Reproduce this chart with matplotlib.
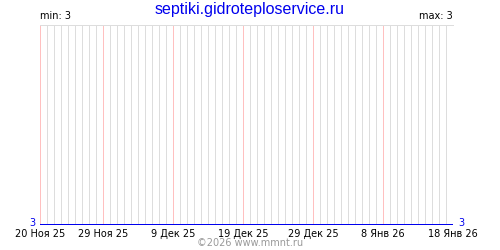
import datetime

import matplotlib
matplotlib.use('Agg')
import matplotlib.pyplot as plt
import matplotlib.dates as mdates

title = 'septiki.gidroteploservice.ru'
start = datetime.date(2025, 11, 20)
values = [3, 3, 3, 3, 3, 3, 3, 3, 3, 3,
          3, 3, 3, 3, 3, 3, 3, 3, 3, 3,
          3, 3, 3, 3, 3, 3, 3, 3, 3, 3,
          3, 3, 3, 3, 3, 3, 3, 3, 3, 3,
          3, 3, 3, 3, 3, 3, 3, 3, 3, 3,
          3, 3, 3, 3, 3, 3, 3, 3, 3, 3]
tick_days = [0, 9, 19, 29, 39, 49, 59]
tick_labels = ['20 Ноя 25', '29 Ноя 25', '9 Дек 25', '19 Дек 25',
               '29 Дек 25', '8 Янв 26', '18 Янв 26']

days = [start + datetime.timedelta(days=i) for i in range(len(values))]
x = mdates.date2num(days)

fig = plt.figure(figsize=(5, 2.5), dpi=100)
ax = fig.add_axes([0.08, 0.1, 0.826, 0.8])

# daily grid (gray) and 10-day grid (pink), 1 px wide
for i, xi in enumerate(x):
    if i in tick_days:
        ax.axvline(xi, color='#ffc0c0', lw=0.72, zorder=2, snap=True)
    else:
        ax.axvline(xi, color='#dddddd', lw=0.72, zorder=1, snap=True)

ax.plot(x, values, color='#0000ee', lw=1.0, zorder=3, solid_capstyle='butt',
        antialiased=False)

ax.set_xlim(x[0], x[-1])
ax.set_ylim(min(values), min(values) + 1)
ax.set_xticks([x[d] for d in tick_days])
ax.set_xticklabels(tick_labels, fontsize=7)
ax.set_yticks([])
ax.tick_params(axis='x', length=0, pad=3)
for s in ['left', 'right', 'bottom']:
    ax.spines[s].set_visible(False)
ax.spines['top'].set_color('#dddddd')
ax.spines['top'].set_linewidth(0.72)

fig.text(0.5, 0.962, title, color='#0000ee', fontsize=11.5, ha='center', va='center',
         family='Liberation Sans')
ax.text(0, 1.02, 'min: %d' % min(values), transform=ax.transAxes, fontsize=7,
        ha='left', va='bottom')
ax.text(1, 1.02, 'max: %d' % max(values), transform=ax.transAxes, fontsize=7,
        ha='right', va='bottom')
ax.text(-0.01, 0.012, str(values[0]), transform=ax.transAxes, fontsize=7,
        color='#0000ee', ha='right', va='center')
ax.text(1.012, 0.012, str(values[-1]), transform=ax.transAxes, fontsize=7,
        color='#0000ee', ha='left', va='center')
fig.text(0.5, 0.028, '©2026 www.mmnt.ru', color='#999999', fontsize=7,
         ha='center', va='center')

fig.savefig('out.png', dpi=100)
